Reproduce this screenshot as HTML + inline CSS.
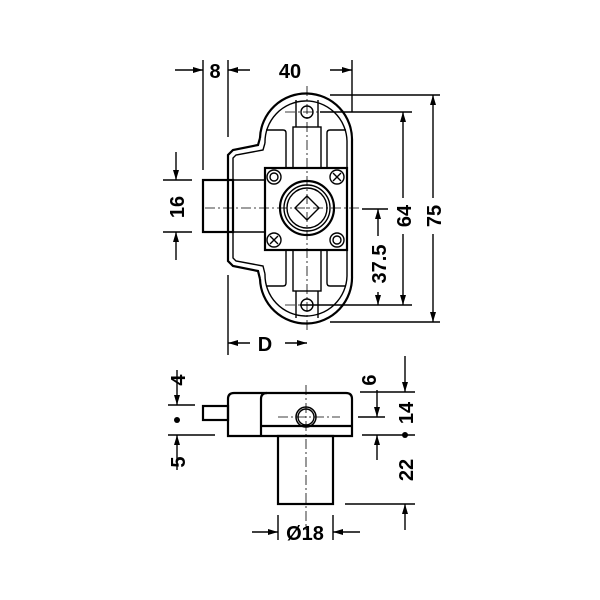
<!DOCTYPE html>
<html><head><meta charset="utf-8"><style>
html,body{margin:0;padding:0;background:#fff;}
svg{display:block;}
text{font-family:"Liberation Sans",Arial,sans-serif;font-weight:bold;font-size:20px;fill:#000;}
</style></head><body>
<svg width="600" height="600" viewBox="0 0 600 600" xmlns="http://www.w3.org/2000/svg">
<defs>
<marker id="a" viewBox="0 0 10 6" refX="10" refY="3" markerWidth="11" markerHeight="6" markerUnits="userSpaceOnUse" orient="auto"><path d="M0,0L10,3L0,6Z" fill="#000"/></marker>
</defs>
<g fill="none" stroke="#000" stroke-width="1.4">
<path d="M260,138 A46,46 0 0 1 352,141 L352,276 A46,46 0 0 1 260,279" stroke-width="2.2"/>
<path d="M265,143 A41,41 0 0 1 347,141 L347,276 A41,41 0 0 1 265,274"/>
<path d="M260,138 L258,145 L233,150 L228,155 L228,261 L233,266 L258,271 L260,279" stroke-width="2.2"/>
<path d="M265,143 L263,150 L236,155 L233,158 L233,258 L236,261 L263,266 L265,274"/>
<rect x="203" y="180" width="30" height="52" stroke-width="2.2"/>
<line x1="233" y1="180" x2="265" y2="180"/><line x1="233" y1="232" x2="265" y2="232"/>
<path d="M266,130 L283,130 Q286,130 286,133 L286,168"/>
<path d="M346,130 L330,130 Q327,130 327,133 L327,168"/>
<path d="M266,286 L283,286 Q286,286 286,283 L286,250"/>
<path d="M346,286 L330,286 Q327,286 327,283 L327,250"/>
<rect x="293" y="127" width="28" height="41"/>
<rect x="293" y="250" width="28" height="41"/>
<line x1="296" y1="100" x2="296" y2="127"/><line x1="318" y1="100" x2="318" y2="127"/>
<line x1="296" y1="291" x2="296" y2="318"/><line x1="318" y1="291" x2="318" y2="318"/>
<circle cx="307" cy="112" r="6"/><circle cx="307" cy="305" r="6"/>
<rect x="265" y="168" width="82" height="82" stroke-width="2.2"/>
<circle cx="307" cy="208" r="27" stroke-width="2.2"/>
<circle cx="307" cy="208" r="23"/>
<circle cx="307" cy="208" r="20"/>
<path d="M307,196 L319,208 L307,220 L295,208Z"/>
<circle cx="274" cy="177" r="7"/><circle cx="274" cy="177" r="4"/>
<circle cx="337" cy="240" r="7"/><circle cx="337" cy="240" r="4"/>
<circle cx="337" cy="177" r="7"/><path d="M333,173L341,181M341,173L333,181"/>
<circle cx="274" cy="240" r="7"/><path d="M270,236L278,244M278,236L270,244"/>
<g stroke-width="0.8" stroke-dasharray="10,3,2,3">
<line x1="307" y1="86" x2="307" y2="330"/>
<line x1="205" y1="208" x2="360" y2="208"/>
<line x1="285" y1="112" x2="335" y2="112"/>
<line x1="285" y1="305" x2="335" y2="305"/>
</g>
<line x1="203" y1="60" x2="203" y2="170"/>
<line x1="228" y1="60" x2="228" y2="137"/>
<line x1="228" y1="275" x2="228" y2="355"/>
<line x1="352" y1="60" x2="352" y2="112"/>
<line x1="175" y1="70" x2="203" y2="70" marker-end="url(#a)"/>
<line x1="250" y1="70" x2="228" y2="70" marker-end="url(#a)"/>
<line x1="330" y1="70" x2="352" y2="70" marker-end="url(#a)"/>
<line x1="330" y1="95" x2="440" y2="95"/>
<line x1="330" y1="322" x2="440" y2="322"/>
<line x1="320" y1="112" x2="412" y2="112"/>
<line x1="300" y1="305" x2="412" y2="305"/>
<line x1="362" y1="209" x2="388" y2="209"/>
<line x1="433" y1="198" x2="433" y2="95" marker-end="url(#a)"/>
<line x1="433" y1="234" x2="433" y2="322" marker-end="url(#a)"/>
<line x1="403" y1="198" x2="403" y2="112" marker-end="url(#a)"/>
<line x1="403" y1="234" x2="403" y2="305" marker-end="url(#a)"/>
<line x1="378" y1="236" x2="378" y2="209" marker-end="url(#a)"/>
<line x1="378" y1="292" x2="378" y2="305" marker-end="url(#a)"/>
<line x1="163" y1="180" x2="192" y2="180"/><line x1="163" y1="232" x2="192" y2="232"/>
<line x1="176" y1="152" x2="176" y2="180" marker-end="url(#a)"/>
<line x1="176" y1="260" x2="176" y2="232" marker-end="url(#a)"/>
<line x1="250" y1="343" x2="228" y2="343" marker-end="url(#a)"/>
<line x1="285" y1="343" x2="307" y2="343" marker-end="url(#a)"/>
<path d="M228,436 L228,399 Q228,393 234,393 L346,393 Q352,393 352,399 L352,436 Z" stroke-width="2.2"/>
<path d="M261,436 L261,399 Q261,393 267,393" stroke-width="2.2"/>
<line x1="261" y1="426" x2="352" y2="426" stroke-width="2.2"/>
<rect x="203" y="406" width="25" height="14" stroke-width="2.2"/>
<rect x="278" y="436" width="55" height="68" stroke-width="2.2"/>
<circle cx="306" cy="417" r="10" stroke-width="1.5"/><circle cx="306" cy="417" r="8"/>
<line x1="278" y1="417" x2="340" y2="417" stroke-width="0.8" stroke-dasharray="10,3,2,3"/>
<line x1="306" y1="385" x2="306" y2="530" stroke-width="0.8" stroke-dasharray="10,3,2,3"/>
<line x1="168" y1="405" x2="195" y2="405"/>
<line x1="168" y1="435" x2="215" y2="435"/>
<line x1="177" y1="370" x2="177" y2="405" marker-end="url(#a)"/>
<line x1="177" y1="470" x2="177" y2="435" marker-end="url(#a)"/>
<line x1="360" y1="392" x2="415" y2="392"/>
<line x1="358" y1="417" x2="385" y2="417"/>
<line x1="362" y1="435" x2="415" y2="435"/>
<line x1="345" y1="504" x2="415" y2="504"/>
<line x1="377" y1="390" x2="377" y2="417" marker-end="url(#a)"/>
<line x1="377" y1="460" x2="377" y2="435" marker-end="url(#a)"/>
<line x1="405" y1="356" x2="405" y2="392" marker-end="url(#a)"/>
<line x1="405" y1="530" x2="405" y2="504" marker-end="url(#a)"/>
<line x1="278" y1="515" x2="278" y2="540"/>
<line x1="333" y1="515" x2="333" y2="540"/>
<line x1="252" y1="532" x2="278" y2="532" marker-end="url(#a)"/>
<line x1="360" y1="532" x2="333" y2="532" marker-end="url(#a)"/>
</g>
<circle cx="177" cy="420" r="3" fill="#000"/>
<circle cx="405" cy="435" r="3" fill="#000"/>
<text x="215" y="78" text-anchor="middle">8</text>
<text x="290" y="78" text-anchor="middle">40</text>
<text x="265" y="351" text-anchor="middle">D</text>
<text x="305" y="540" text-anchor="middle">Ø18</text>
<text transform="translate(184,207) rotate(-90)" text-anchor="middle">16</text>
<text transform="translate(441,216) rotate(-90)" text-anchor="middle">75</text>
<text transform="translate(411,216) rotate(-90)" text-anchor="middle">64</text>
<text transform="translate(386,264) rotate(-90)" text-anchor="middle">37.5</text>
<text transform="translate(185,380) rotate(-90)" text-anchor="middle">4</text>
<text transform="translate(185,462) rotate(-90)" text-anchor="middle">5</text>
<text transform="translate(376,380) rotate(-90)" text-anchor="middle">6</text>
<text transform="translate(413,413) rotate(-90)" text-anchor="middle">14</text>
<text transform="translate(413,470) rotate(-90)" text-anchor="middle">22</text>
</svg>
</body></html>
